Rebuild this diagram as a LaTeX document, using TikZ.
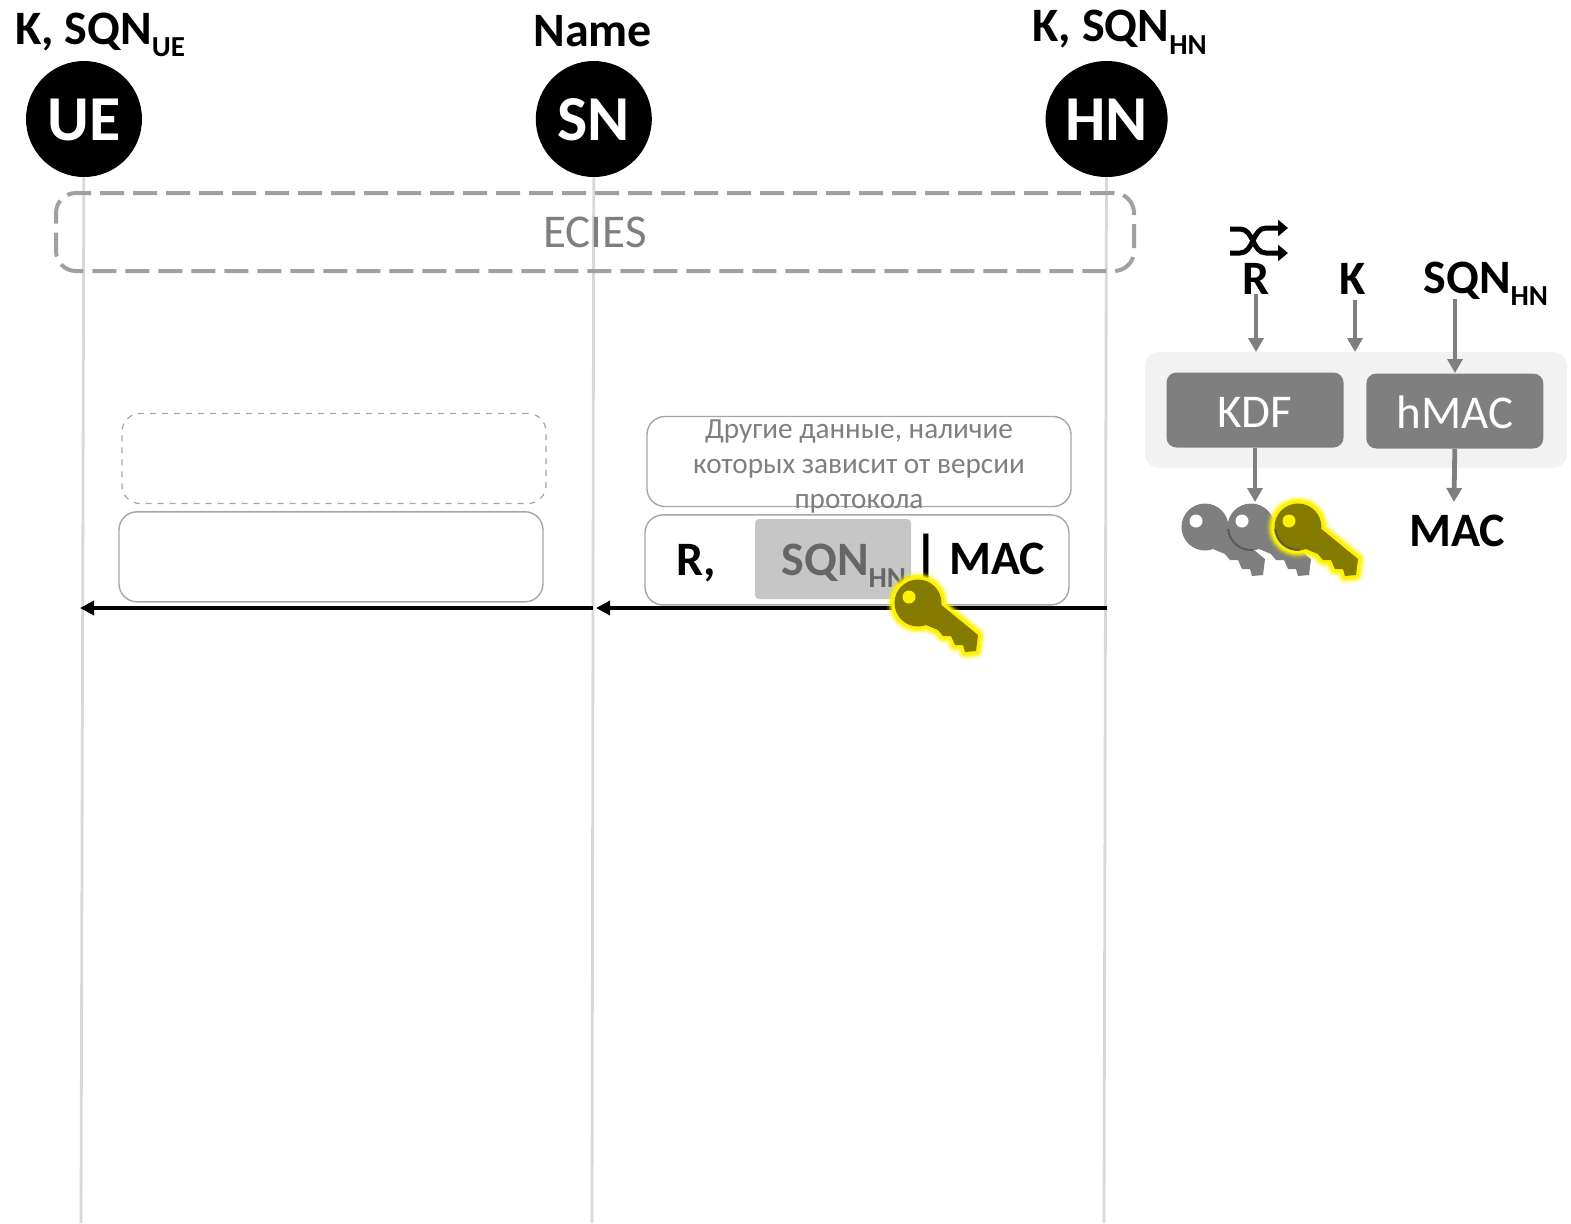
\documentclass[tikz,border=0pt]{standalone}
\usepackage{fontspec}
\setmainfont{Carlito}
\usetikzlibrary{arrows.meta, positioning, shapes.geometric}
\definecolor{lifegray}{HTML}{D8D8D8}
\definecolor{dashgray}{HTML}{A0A0A0}
\definecolor{boxgray}{HTML}{A6A6A6}
\definecolor{textgray}{HTML}{7F7F7F}
\definecolor{keyolive}{HTML}{857A00}
\newcommand{\subtxt}[1]{\raisebox{-0.55ex}{\fontsize{14.5}{16}\selectfont #1}}
\newcommand{\keyoutline}{(0,0) circle (23.5) (21,0) -- (60,32) -- (58,48) -- (47,49) -- (45,42) -- (37,42) -- (33,33) -- (25,33) -- (20,27) -- (8,22) -- cycle}

\begin{document}
\begin{tikzpicture}[
  x=0.5pt, y=-0.5pt,
  node distance=10pt and 14pt,
  every node/.style={font=\fontsize{24}{26}\selectfont\bfseries, inner sep=0pt},
  actor/.style={ellipse, fill=black, text=white, minimum width=58pt, minimum height=58pt, text height=21.5pt, text depth=0pt, font=\fontsize{32}{32}\selectfont\bfseries},
  life/.style={lifegray, line width=1.4pt},
  msgbox/.style={rectangle, draw=boxgray, line width=0.7pt, rounded corners=9pt, minimum width=212pt, minimum height=45pt},
  grayline/.style={font=\fontsize{23.5}{26}\selectfont, text=textgray},
  datatxt/.style={font=\fontsize{14.6}{17.5}\selectfont, text=textgray, align=center},
  funcbox/.style={rectangle, fill=textgray, rounded corners=5pt, minimum width=88.5pt, minimum height=37.5pt, text height=17pt, text depth=0pt, text=white, font=\fontsize{23.5}{26}\selectfont},
  arr/.style={-{Triangle[length=7pt, width=7.5pt]}, textgray, line width=2.4pt},
  msg/.style={-{Triangle[length=7pt, width=7pt]}, black, line width=1.8pt},
  shuf/.style={black, line width=2.5pt, -{Triangle[length=5pt, width=8pt]}},
  shade/.style={black!70, opacity=0.7, line width=1pt},
  keyicon/.pic={
    \path[draw=yellow, opacity=0.18, line width=8pt, line join=round] \keyoutline;
    \path[draw=yellow, opacity=0.35, line width=6pt, line join=round] \keyoutline;
    \path[draw=yellow, opacity=0.6, line width=4.5pt, line join=round] \keyoutline;
    \path[draw=yellow, line width=3pt, line join=round] \keyoutline;
    \path[fill=#1] \keyoutline;
    \path[fill=yellow] (-9,-6) circle (6.5);
  },
  greykey/.pic={
    \path[fill=textgray] \keyoutline;
    \path[fill=white] (-9,-6) circle (6.5);
  }
]
\useasboundingbox (0,0) rectangle (1571,1223);

% Actors
\node[actor] (ue) at (84,119) {UE};
\node[actor, right=196.5pt of ue] (sn) {SN};
\node[actor, right=225pt of sn, minimum width=61pt, xshift=-28.5pt] (hn) {HN};

\node[above=1.5pt of ue, xshift=8pt] (uelabel) {K, SQN\subtxt{UE}};
\node[above=6.5pt of sn, xshift=-0.5pt] (snlabel) {Name};
\node[above=3pt of hn, xshift=6.5pt] (hnlabel) {K, SQN\subtxt{HN}};

% Lifelines
\coordinate (ueend) at (81,1223);
\coordinate (snend) at (592,1223);
\coordinate (hnend) at (1104,1223);
\draw[life] (ue) -- (ueend);
\draw[life] (sn) -- (snend);
\draw[life] (hn) -- (hnend);

\node[rectangle, draw=dashgray, line width=2pt, dash pattern=on 12pt off 4.5pt, rounded corners=10pt, minimum width=539pt, minimum height=39pt, grayline] (ecies) at (595,232) {ECIES};

% Message boxes
\node[msgbox, dashed, line width=0.6pt] (dataleftup) at (334,458.5) {};
\node[msgbox, below=3.5pt of dataleftup, xshift=-1.5pt] (dataleft) {};
\node[msgbox] (dataright) at (859,461.5) {};
\node[msgbox, below=3.5pt of dataright, xshift=-1pt] (payload) {};
\node[datatxt] (datatext) at (859,466) {Другие данные, наличие\\которых зависит от версии\\протокола};

\node[rectangle, fill=gray!45, rounded corners=2pt, minimum width=78pt, minimum height=40pt] (sqnbg) at (833,559) {};
\node[anchor=base] (randlabel) at (696,575) {R,};
\node[anchor=base west, text=black!60] (sqnlabel) at (781,575) {SQN\subtxt{HN}};
\node[anchor=base, font=\fontsize{27}{28}\selectfont\bfseries] (barlabel) at (926,573) {|};
\node[anchor=base] (maclabel) at (997,574) {MAC};

% Messages
\coordinate (uemsg) at (80,608);
\coordinate (snmsg) at (596,608);
\coordinate (snstart) at (593,608);
\coordinate (hnmsg) at (1107,608);
\draw[msg] (hnmsg) -- (snmsg);
\draw[msg] (snstart) -- (uemsg);

\pic (keymsg) at (918,603) {keyicon=keyolive};

% KDF panel
\node[rectangle, fill=black!5, rounded corners=7pt, minimum width=211pt, minimum height=58pt] (panel) at (1356,410) {};
\node[funcbox] (kdf) at (1255,410) {KDF};
\node[funcbox, right=11pt of kdf, yshift=-0.5pt] (hmac) {hMAC};

\node[anchor=base] (rlabel) at (1256,294) {R};
\node[anchor=base] (klabel) at (1353,294) {K};
\node[anchor=base west] (sqnhn) at (1423,293) {SQN\subtxt{HN}};
\node[anchor=base] (maclow) at (1457,546) {MAC};

\coordinate (rin) at (1256,352);
\coordinate (kstart) at (1355,300);
\coordinate (kin) at (1355,352);
\coordinate (sqnin) at (1455,373);
\coordinate (keysin) at (1255,502);
\coordinate (macin) at (1454,502);
\coordinate (sqntop) at (1455,299);
\draw[arr] (rlabel) -- (rin);
\draw[arr] (kstart) -- (kin);
\draw[arr] (sqntop) -- (sqnin);
\draw[arr] (kdf.south) -- (keysin);
\draw[arr] (hmac.south) -- (macin);

\pic (keyone) at (1205,527) {greykey};
\pic (keytwo) at (1251,527) {greykey};
\pic (keythree) at (1298,527) {keyicon=keyolive};
\draw[shade] (1251,527) ++(175:23) arc (175:85:23);
\draw[shade] (1298,527) ++(175:23) arc (175:85:23);

% Random source
\coordinate (shufa) at (1230,229);
\coordinate (shufb) at (1288,253);
\coordinate (shufc) at (1230,253);
\coordinate (shufd) at (1288,228);
\draw[shuf] (shufa) -- ++(10,0) to[out=0, in=180] ++(26,24) -- (shufb);
\draw[shuf] (shufc) -- ++(10,0) to[out=0, in=180] ++(26,-25) -- (shufd);
\end{tikzpicture}
\end{document}
